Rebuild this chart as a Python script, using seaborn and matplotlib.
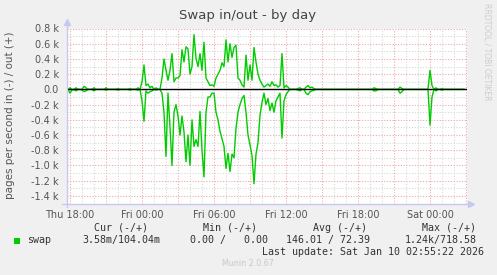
import numpy as np
import pandas as pd
import matplotlib
matplotlib.use("Agg")
import matplotlib.pyplot as plt
import seaborn as sns
from matplotlib.patches import Rectangle

# ---------------- data (pages per second, 10-minute samples starting Thu 17:50) -------------
swap_out = [
    0, 20, 0, 0, 20, 0, 0, 0, 40, 20, 0, 0,
    0, 20, 0, 0, 0, 0, 0, 20, 0, 0, 0, 0,
    0, 10, 0, 0, 0, 0, 0, 10, 0, 0, 0, 20,
    0, 100, 320, 50, 70, 20, 40, 0, 20, 0, 0, 150,
    400, 250, 120, 250, 470, 100, 150, 150, 180, 520, 360, 560,
    530, 200, 300, 720, 410, 300, 470, 250, 620, 150, 100, 50,
    60, 40, 150, 200, 250, 350, 300, 650, 360, 600, 420, 550,
    580, 150, 120, 60, 30, 450, 120, 320, 120, 550, 360, 200,
    120, 70, 30, 50, 70, 40, 100, 50, 60, 30, 50, 470,
    20, 50, 30, 0, 0, 0, 0, 10, 20, 0, 0, 30,
    50, 20, 30, 10, 0, 0, 0, 0, 0, 0, 0, 0,
    0, 0, 0, 0, 0, 0, 0, 0, 0, 0, 0, 0,
    0, 0, 0, 0, 0, 0, 0, 0, 0, 20, 10, 0,
    0, 0, 0, 0, 0, 0, 0, 0, 0, 0, 30, 10,
    0, 0, 0, 0, 0, 0, 0, 0, 0, 0, 0, 0,
    0, 250, 50, 0, 20, 0, 0, 10, 0, 0, 0, 0,
    0, 0, 0, 0, 0, 0, 0,
]
swap_in = [
    0, 50, 10, 0, 20, 0, 0, 10, 30, 20, 0, 0,
    0, 20, 0, 0, 0, 0, 0, 10, 0, 0, 0, 0,
    0, 10, 0, 0, 0, 0, 0, 10, 0, 0, 0, 10,
    0, 150, 420, 20, 50, 30, 20, 0, 10, 0, 0, 50,
    300, 880, 50, 500, 1000, 300, 200, 350, 600, 350, 560, 950,
    600, 1000, 400, 750, 660, 750, 290, 800, 1150, 300, 100, 100,
    50, 50, 300, 400, 550, 650, 750, 1040, 840, 1080, 850, 900,
    510, 300, 200, 120, 80, 300, 600, 730, 870, 1240, 850, 700,
    340, 170, 50, 200, 120, 280, 180, 300, 150, 100, 50, 640,
    150, 70, 30, 0, 0, 0, 0, 10, 20, 0, 0, 50,
    70, 30, 20, 10, 0, 0, 0, 0, 0, 0, 0, 0,
    0, 0, 0, 0, 0, 0, 0, 0, 0, 0, 0, 0,
    0, 0, 0, 0, 0, 0, 0, 0, 0, 20, 20, 0,
    0, 0, 0, 0, 0, 0, 0, 0, 0, 0, 50, 30,
    0, 0, 0, 0, 0, 0, 0, 0, 0, 0, 0, 0,
    0, 470, 100, 0, 20, 0, 0, 10, 0, 0, 0, 0,
    0, 0, 0, 0, 0, 0, 0,
]
x_tick_hours = [0, 6, 12, 18, 24, 30]          # hours after Thu 18:00
x_tick_labels = ["Thu 18:00", "Fri 00:00", "Fri 06:00", "Fri 12:00", "Fri 18:00", "Sat 00:00"]
y_ticks = [800, 600, 400, 200, 0, -200, -400, -600, -800, -1000, -1200, -1400]
y_tick_labels = ["0.8 k", "0.6 k", "0.4 k", "0.2 k", "0.0", "-0.2 k", "-0.4 k", "-0.6 k",
                 "-0.8 k", "-1.0 k", "-1.2 k", "-1.4 k"]
legend_headers = ["Cur (-/+)", "Min (-/+)", "Avg (-/+)", "Max (-/+)"]
legend_values = ["3.58m/104.04m", "0.00 /   0.00", "146.01 / 72.39", "1.24k/718.58"]
series_name = "swap"
title = "Swap in/out - by day"
ylabel = "pages per second in (-) / out (+)"
last_update = "Last update: Sat Jan 10 02:55:22 2026"

# sample times in hours relative to Thu 18:00
hours = -10 / 60 + np.arange(len(swap_out)) / 6.0
df = pd.DataFrame({"hours": hours, "out": swap_out, "in": [-v for v in swap_in]})

W, H = 497, 275
BG = "#f0f0f0"
GREEN = "#00cc00"
AXC = "#c8c8f0"
fig = plt.figure(figsize=(W / 100, H / 100), dpi=100, facecolor=BG)

def fx(x):
    return x / W

def fy(y):
    return 1 - y / H

L, R, T, B = 67, 467, 28.5, 203.5
ax = fig.add_axes([fx(L), fy(B), (R - L) / W, (B - T) / H])
ax.set_facecolor("white")

# grid
ax.set_xlim(-0.25, 33.0833)
ax.set_ylim(-1500, 800)
for h in np.arange(-0, 34, 1):
    major = (h % 3 == 0)
    ax.axvline(h, color="#f0a8a8" if major else "#d8d8d8", lw=0.8,
               linestyle=(0, (1, 1.5)), zorder=0)
for v in np.arange(-1400, 801, 100):
    major = (v % 200 == 0)
    ax.axhline(v, color="#f0a8a8" if major else "#d8d8d8", lw=0.8,
               linestyle=(0, (1, 1.5)), zorder=0)

sns.lineplot(data=df, x="hours", y="out", color=GREEN, lw=1.0, ax=ax, zorder=3)
sns.lineplot(data=df, x="hours", y="in", color=GREEN, lw=1.0, ax=ax, zorder=3)
ax.axhline(0, color="black", lw=1.0, zorder=4)

ax.set_xticks(x_tick_hours)
ax.set_xticklabels(x_tick_labels)
ax.set_yticks(y_ticks)
ax.set_yticklabels(y_tick_labels)
ax.tick_params(axis="both", length=0, labelsize=7, labelcolor="#555555")
ax.tick_params(axis="x", pad=5)
ax.tick_params(axis="y", pad=6)
ax.set_xlabel("")
ax.set_ylabel("")
for s in ax.spines.values():
    s.set_visible(False)

# axes lines with arrows
ax.plot([-0.012, 1.01], [0, 0], transform=ax.transAxes, color=AXC, lw=1, clip_on=False, zorder=5)
ax.plot([0, 0], [-0.02, 1.035], transform=ax.transAxes, color=AXC, lw=1, clip_on=False, zorder=5)
ax.plot([1.01], [0], transform=ax.transAxes, marker=">", ms=4, color=AXC, clip_on=False, zorder=5)
ax.plot([0], [1.035], transform=ax.transAxes, marker="^", ms=4, color=AXC, clip_on=False, zorder=5)

fig.text(fx(248), fy(16), title, ha="center", va="center", fontsize=9.5, color="#444444")
fig.text(fx(10), fy(115.5), ylabel, rotation=90, ha="center", va="center", fontsize=7.5,
         color="#555555")
fig.text(fx(487), fy(52), "RRDTOOL / TOBI OETIKER", rotation=270, ha="center", va="center",
         fontsize=5.5, color="#cccccc")

mono = dict(family="DejaVu Sans Mono", fontsize=7.2, color="#333333", va="center")
for hdr, cx in zip(legend_headers, [120.8, 230.3, 339.7, 449.3]):
    fig.text(fx(cx), fy(227.7), hdr, ha="center", **mono)
fig.patches.append(Rectangle((fx(14), fy(243.5)), 6 / W, 6 / H, transform=fig.transFigure,
                             facecolor=GREEN, edgecolor="none"))
fig.text(fx(26.7), fy(240), series_name, ha="left", **mono)
for val, lx in zip(legend_values, [82.7, 190, 285.7, 404.3]):
    fig.text(fx(lx), fy(240), val, ha="left", **mono)
fig.text(fx(261.7), fy(251.7), last_update, ha="left", **mono)
fig.text(fx(248.3), fy(263.3), "Munin 2.0.67", ha="center", va="center", fontsize=5.8,
         color="#c8c8c8")

fig.savefig("out.png", dpi=100, facecolor=BG)
